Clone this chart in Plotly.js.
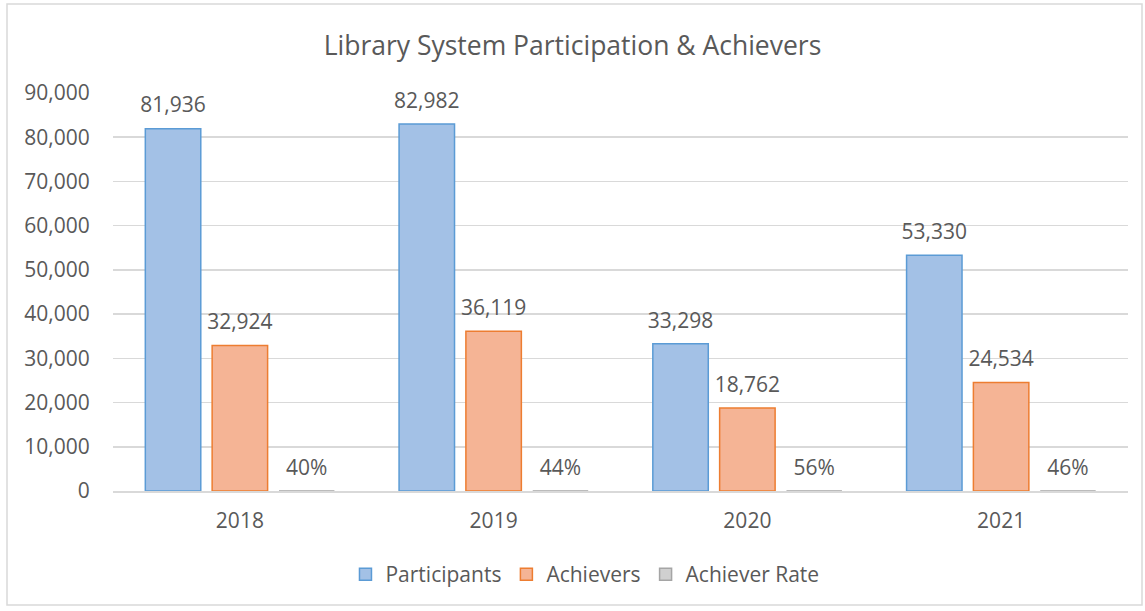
<!DOCTYPE html>
<html><head><meta charset="utf-8">
<script src="https://cdn.plot.ly/plotly-3.0.1.min.js"></script>
<style>html,body{margin:0;padding:0;background:#fff;}#chart{width:1145px;height:611px;}</style>
</head><body><div id="chart"></div>
<script>
const years = ['2018', '2019', '2020', '2021'];
const participants = [81936, 82982, 33298, 53330];
const achievers = [32924, 36119, 18762, 24534];
const achieverRate = [0.40, 0.44, 0.56, 0.46];
const yTicks = [0, 10000, 20000, 30000, 40000, 50000, 60000, 70000, 80000, 90000];

const W = 1145, H = 611, mL = 113, mR = 17, mT = 93, mB = 120;
const pw = W - mL - mR, ph = H - mT - mB;
const font = '"Open Sans", sans-serif';
const txt = '#595959';
const fs = 21;

function bar(name, y, fill, edge, grp) {
  return {type:'bar', name:name, x:years, y:y, offsetgroup:grp, alignmentgroup:'a',
          marker:{color:fill, line:{color:edge, width:1.5}}, hoverinfo:'skip'};
}
function label(y, tmpl, grp) {
  return {type:'scatter', mode:'markers+text', x:years, y:y, offsetgroup:grp, alignmentgroup:'a',
          texttemplate:tmpl, textposition:'top center', cliponaxis:false, showlegend:false,
          marker:{size:16, opacity:0}, hoverinfo:'skip',
          textfont:{size:fs, color:txt, family:font}};
}

const traces = [
  bar('Participants', participants, '#A3C1E6', '#5B9BD5', 'p'),
  bar('Achievers', achievers, '#F5B495', '#ED7D31', 'a'),
  bar('Achiever Rate', achieverRate, '#D0D0D0', '#A5A5A5', 'r'),
  label(participants, '%{y:,}', 'p'),
  label(achievers, '%{y:,}', 'a'),
  label(achieverRate, '%{y:.0%}', 'r')
];

const layout = {
  width: W, height: H,
  margin:{l:mL, r:mR, t:mT, b:mB},
  paper_bgcolor:'#fff', plot_bgcolor:'#fff',
  font:{family:font, color:txt, size:fs},
  title:{text:'Library System Participation &amp; Achievers', x:0.5, xanchor:'center', y:0.925, yanchor:'middle',
         font:{size:26.5, color:txt, family:font}},
  barmode:'group', bargap:0.21, bargroupgap:0.17,
  scattermode:'group', scattergap:0.21,
  xaxis:{type:'category', tickfont:{size:fs, color:txt}, showline:true, linecolor:'#D9D9D9', linewidth:1.5,
         ticks:'outside', ticklen:10, tickcolor:'rgba(0,0,0,0)', showgrid:false, zeroline:false, automargin:false},
  yaxis:{range:[0, 90000], tickvals:yTicks, tickformat:',', tickfont:{size:fs, color:txt},
         showgrid:true, gridcolor:'#D9D9D9', gridwidth:1.5, zeroline:false, showline:false,
         ticks:'outside', ticklen:18, tickcolor:'rgba(0,0,0,0)', automargin:false},
  legend:{orientation:'h', x:0.465, xanchor:'center', y:-0.21, yanchor:'middle',
          font:{size:fs, color:txt}, itemwidth:30, traceorder:'normal'},
  shapes:[{type:'rect', xref:'paper', yref:'paper', layer:'below',
           x0:(7 - mL)/pw, x1:(1142 - mL)/pw, y0:(H - mB - 605)/ph, y1:(H - mB - 4)/ph,
           line:{color:'#D9D9D9', width:1.5}, fillcolor:'rgba(0,0,0,0)'}]
};

Plotly.newPlot('chart', traces, layout, {displayModeBar:false, staticPlot:true});
</script></body></html>
